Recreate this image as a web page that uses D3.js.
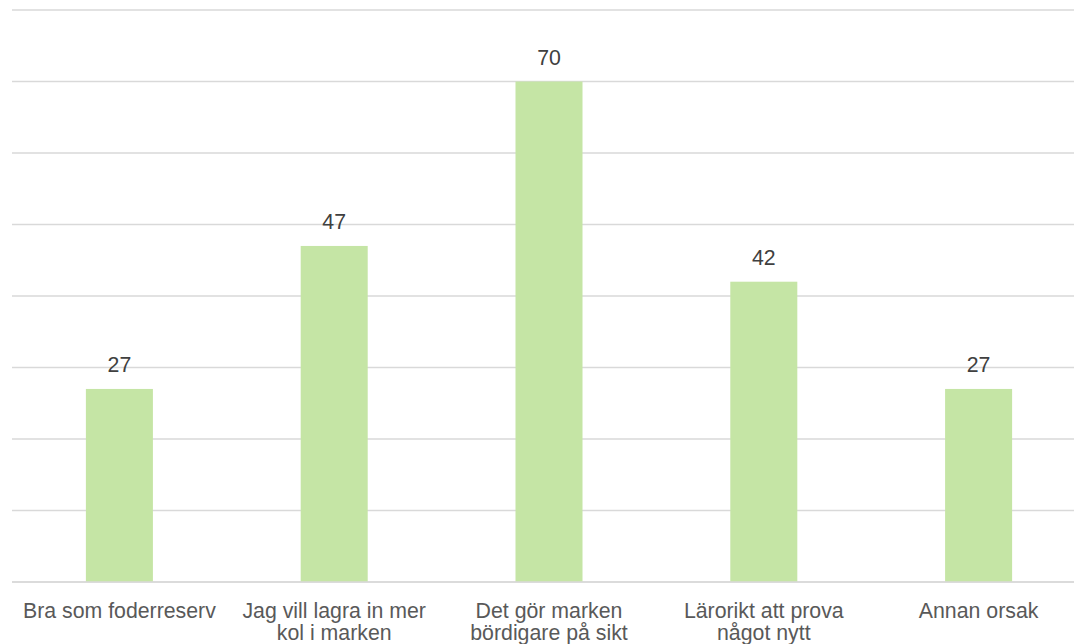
<!DOCTYPE html>
<html>
<head>
<meta charset="utf-8">
<script src="https://cdn.jsdelivr.net/npm/d3@7"></script>
<style>
  html, body { margin: 0; padding: 0; background: #ffffff; }
  svg { display: block; }
</style>
</head>
<body>
<svg id="chart" width="1074" height="644"></svg>
<script>
const categories = [
  ["Bra som foderreserv"],
  ["Jag vill lagra in mer", "kol i marken"],
  ["Det gör marken", "bördigare på sikt"],
  ["Lärorikt att prova", "något nytt"],
  ["Annan orsak"]
];
const values = [27, 47, 70, 42, 27];
const yTicks = [0, 10, 20, 30, 40, 50, 60, 70, 80];

(function () {
const svg = d3.select("#chart");
const W = 1074;
const plotLeft = 12, plotRight = 1086, plotTop = 10, plotBottom = 582;

const x = d3.scaleBand()
  .domain(d3.range(values.length))
  .range([plotLeft, plotRight])
  .paddingInner(0.688)
  .paddingOuter(0.344);

const y = d3.scaleLinear().domain([0, 80]).range([plotBottom, plotTop]);

const font = "'Liberation Sans', Arial, sans-serif";

// gridlines
svg.append("g").selectAll("line")
  .data(yTicks)
  .join("line")
  .attr("x1", plotLeft).attr("x2", W)
  .attr("y1", d => y(d)).attr("y2", d => y(d))
  .attr("stroke", "#d9d9d9")
  .attr("stroke-width", 1.5);

// bars
svg.append("g").selectAll("rect")
  .data(values)
  .join("rect")
  .attr("x", (d, i) => x(i))
  .attr("width", x.bandwidth())
  .attr("y", d => y(d))
  .attr("height", d => y(0) - y(d))
  .attr("fill", "#c5e5a5");

// baseline over bars
svg.append("line")
  .attr("x1", plotLeft).attr("x2", W)
  .attr("y1", y(0)).attr("y2", y(0))
  .attr("stroke", "#d9d9d9")
  .attr("stroke-width", 1.5);

// data labels
svg.append("g").selectAll("text")
  .data(values)
  .join("text")
  .attr("x", (d, i) => x(i) + x.bandwidth() / 2)
  .attr("y", d => y(d) - 17)
  .attr("text-anchor", "middle")
  .attr("font-family", font)
  .attr("font-size", "21.3px")
  .attr("fill", "#404040")
  .text(d => d);

// category labels
const cat = svg.append("g").selectAll("text")
  .data(categories)
  .join("text")
  .attr("x", (d, i) => x(i) + x.bandwidth() / 2)
  .attr("y", 618)
  .attr("text-anchor", "middle")
  .attr("font-family", font)
  .attr("font-size", "21.3px")
  .attr("fill", "#595959");

cat.each(function (lines, i) {
  const t = d3.select(this);
  lines.forEach((ln, j) => {
    t.append("tspan")
      .attr("x", x(i) + x.bandwidth() / 2)
      .attr("dy", j === 0 ? 0 : 22)
      .text(ln);
  });
});
})();
</script>
</body>
</html>
